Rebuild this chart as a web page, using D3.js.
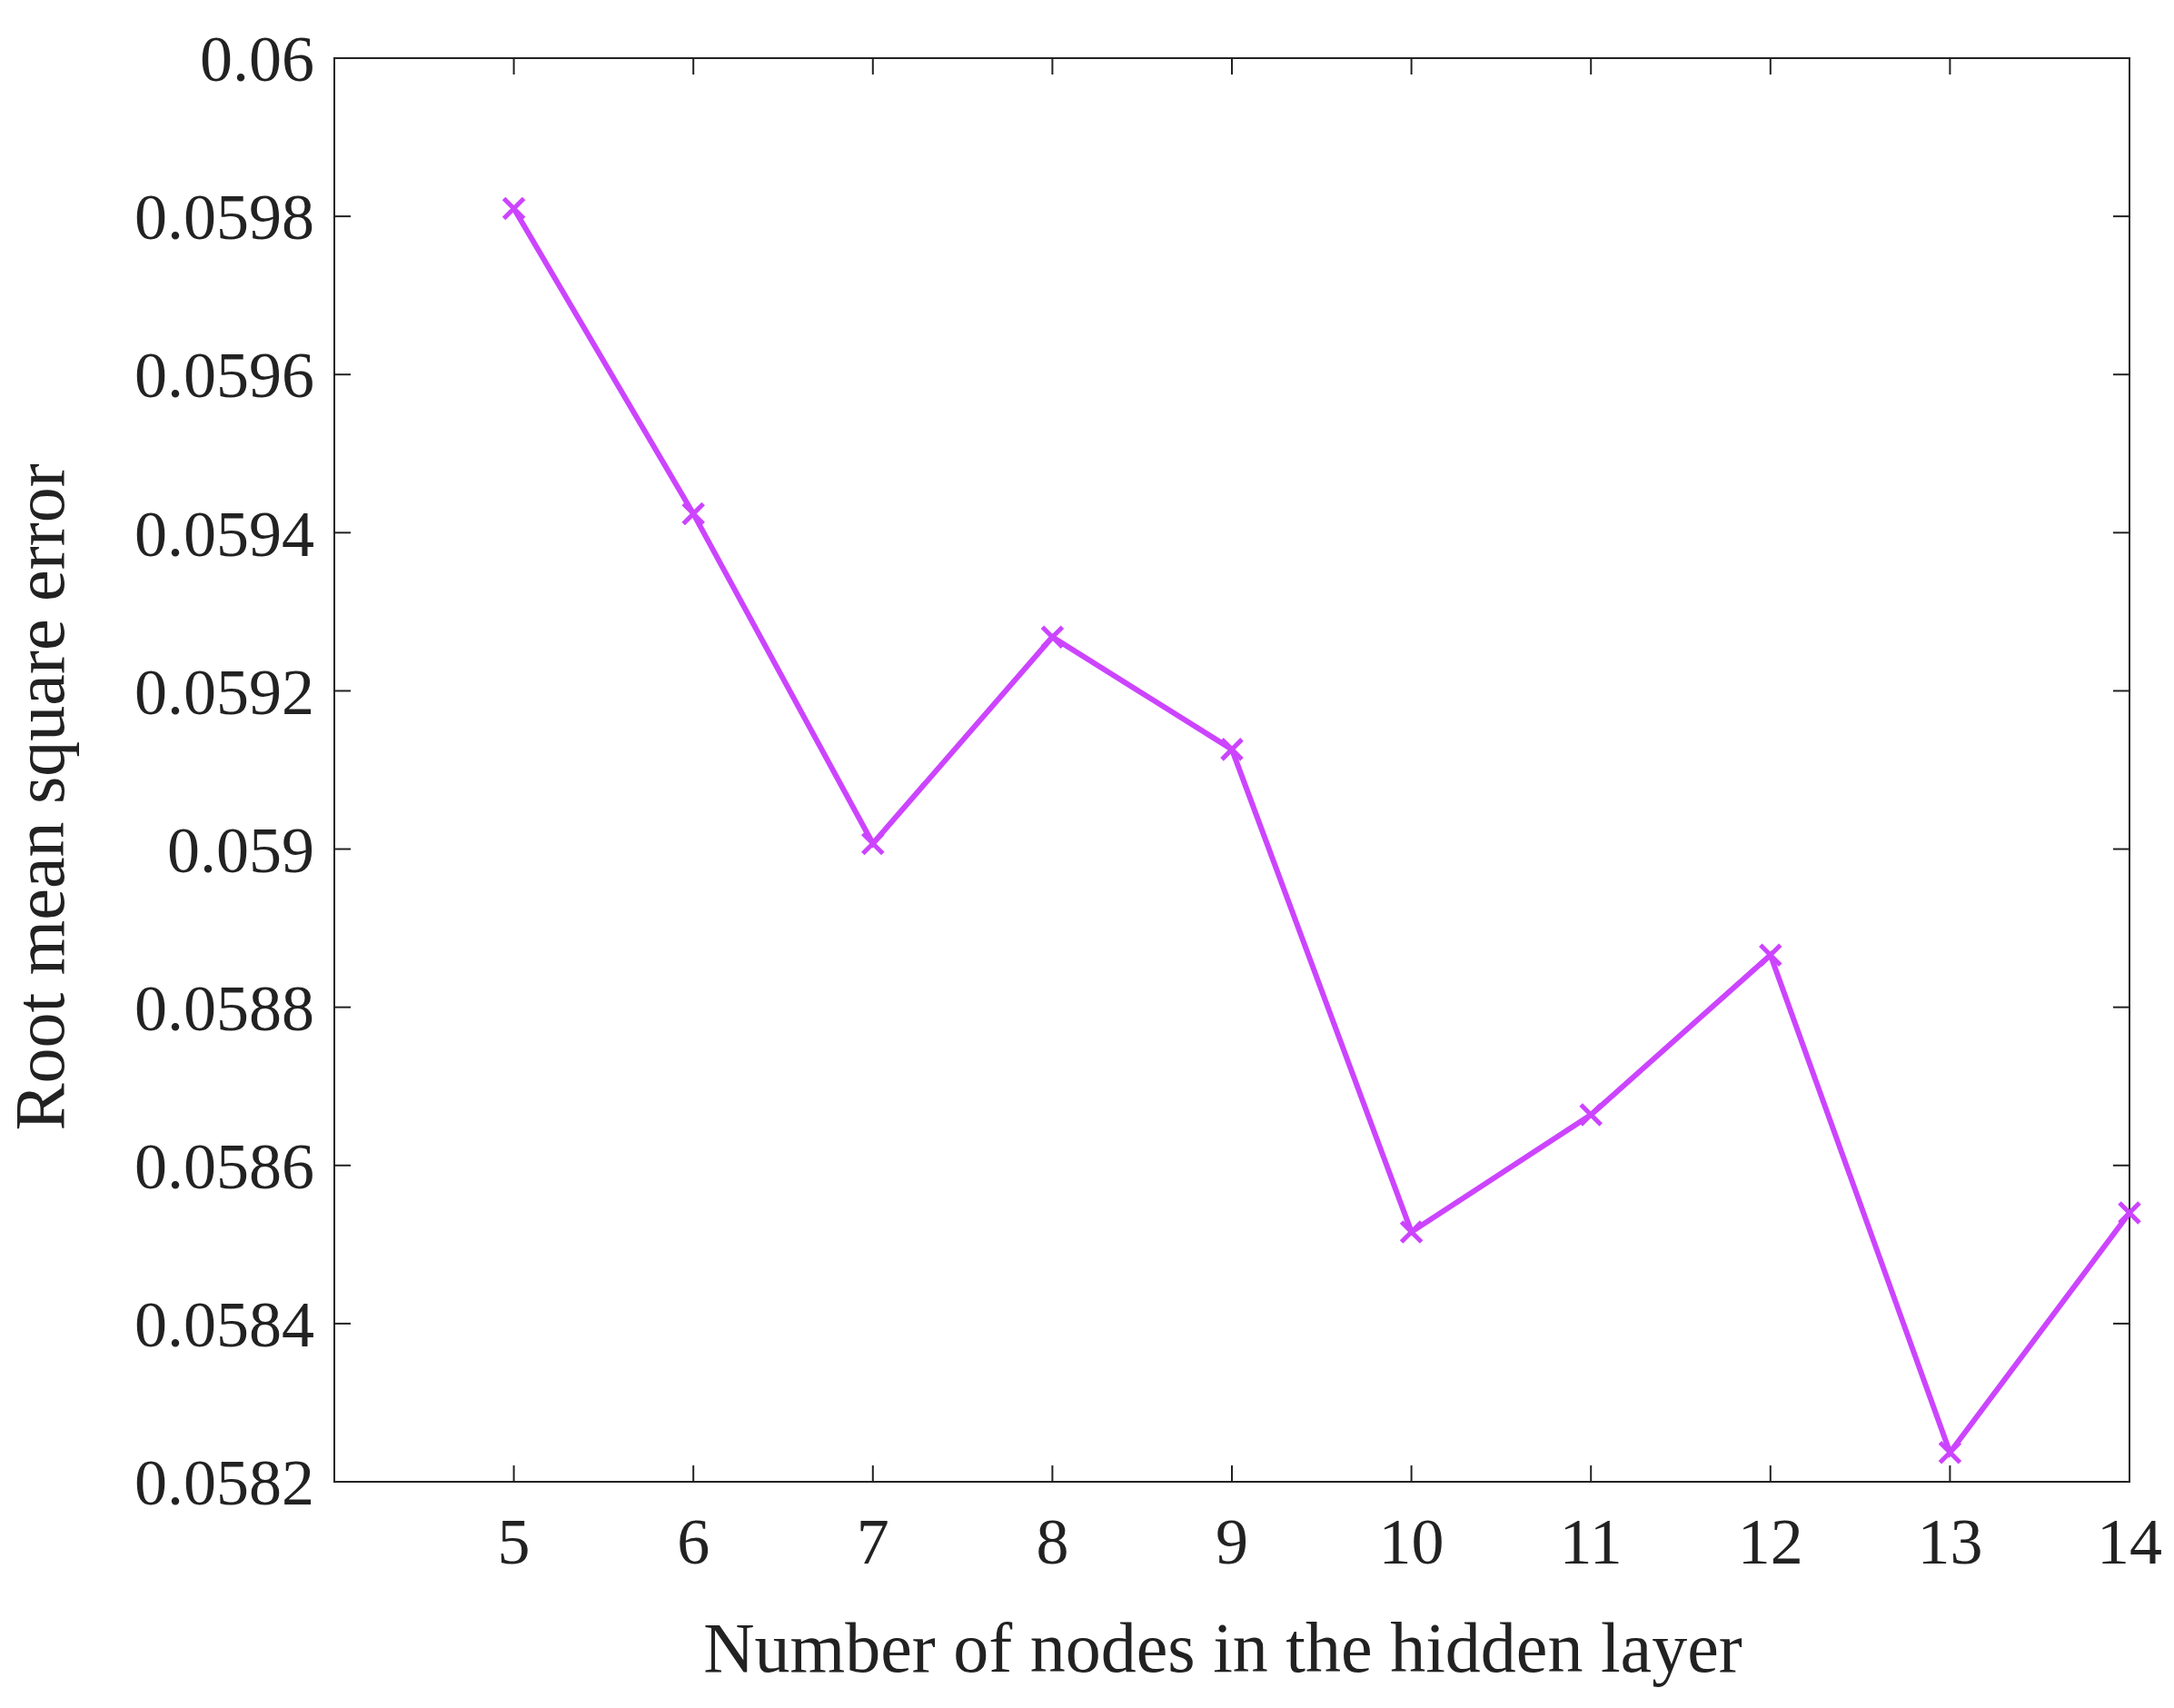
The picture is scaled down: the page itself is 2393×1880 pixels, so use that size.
<!DOCTYPE html>
<html>
<head>
<meta charset="utf-8">
<script src="https://cdn.jsdelivr.net/npm/d3@7"></script>
<style>
body { margin: 0; background: #fff; }
text { font-family: "Liberation Serif", "Times New Roman", serif; fill: #222; }
</style>
</head>
<body>
<div id="chart"></div>
<script>
// data
var nodes = [5, 6, 7, 8, 9, 10, 11, 12, 13, 14];
var rmse = [0.05981, 0.059424, 0.059007, 0.059268, 0.059126, 0.058516, 0.058664, 0.058866, 0.058237, 0.05854];
var yTicks = [0.0582, 0.0584, 0.0586, 0.0588, 0.059, 0.0592, 0.0594, 0.0596, 0.0598, 0.06];

var width = 2393, height = 1880;
var plotLeft = 368, plotRight = 2344, plotTop = 64, plotBottom = 1631;

var svg = d3.select("#chart").append("svg")
    .attr("width", width)
    .attr("height", height);

var x = d3.scaleLinear().domain([4, 14]).range([plotLeft, plotRight]);
var y = d3.scaleLinear().domain([0.0582, 0.06]).range([plotBottom, plotTop]);

// box
svg.append("rect")
    .attr("x", plotLeft).attr("y", plotTop)
    .attr("width", plotRight - plotLeft).attr("height", plotBottom - plotTop)
    .attr("fill", "none").attr("stroke", "#222").attr("stroke-width", 2);

var tick = 18;
var fmt = function(d) { return String(+d.toFixed(4)); };

// x ticks
var xg = svg.append("g");
nodes.forEach(function(d) {
    xg.append("line").attr("x1", x(d)).attr("x2", x(d)).attr("y1", plotBottom).attr("y2", plotBottom - tick)
        .attr("stroke", "#222").attr("stroke-width", 2);
    xg.append("line").attr("x1", x(d)).attr("x2", x(d)).attr("y1", plotTop).attr("y2", plotTop + tick)
        .attr("stroke", "#222").attr("stroke-width", 2);
    xg.append("text").attr("x", x(d)).attr("y", plotBottom + 90)
        .attr("text-anchor", "middle").style("font-size", "72px").text(d);
});

// y ticks
var yg = svg.append("g");
yTicks.forEach(function(d) {
    yg.append("line").attr("x1", plotLeft).attr("x2", plotLeft + tick).attr("y1", y(d)).attr("y2", y(d))
        .attr("stroke", "#222").attr("stroke-width", 2);
    yg.append("line").attr("x1", plotRight).attr("x2", plotRight - tick).attr("y1", y(d)).attr("y2", y(d))
        .attr("stroke", "#222").attr("stroke-width", 2);
    yg.append("text").attr("x", plotLeft - 22).attr("y", y(d)).attr("dy", "0.35em")
        .attr("text-anchor", "end").style("font-size", "72px").text(fmt(d));
});

// axis titles
svg.append("text").attr("x", (plotLeft + plotRight) / 2 - 10).attr("y", 1840)
    .attr("text-anchor", "middle").style("font-size", "78px")
    .text("Number of nodes in the hidden layer");
svg.append("text")
    .attr("transform", "translate(70," + ((plotTop + plotBottom) / 2 + 30) + ") rotate(-90)")
    .attr("text-anchor", "middle").style("font-size", "78px")
    .text("Root mean square error");

// line
var pts = nodes.map(function(d, i) { return [d, rmse[i]]; });
var line = d3.line().x(function(d) { return x(d[0]); }).y(function(d) { return y(d[1]); });
svg.append("path").datum(pts).attr("d", line)
    .attr("fill", "none").attr("stroke", "#cc44ff").attr("stroke-width", 6);

// x markers
var m = 11;
svg.selectAll(".mk").data(pts).enter().append("path")
    .attr("d", function(d) {
        var cx = x(d[0]), cy = y(d[1]);
        return "M" + (cx - m) + "," + (cy - m) + "L" + (cx + m) + "," + (cy + m) +
               "M" + (cx - m) + "," + (cy + m) + "L" + (cx + m) + "," + (cy - m);
    })
    .attr("stroke", "#cc44ff").attr("stroke-width", 5).attr("fill", "none");
</script>
</body>
</html>
